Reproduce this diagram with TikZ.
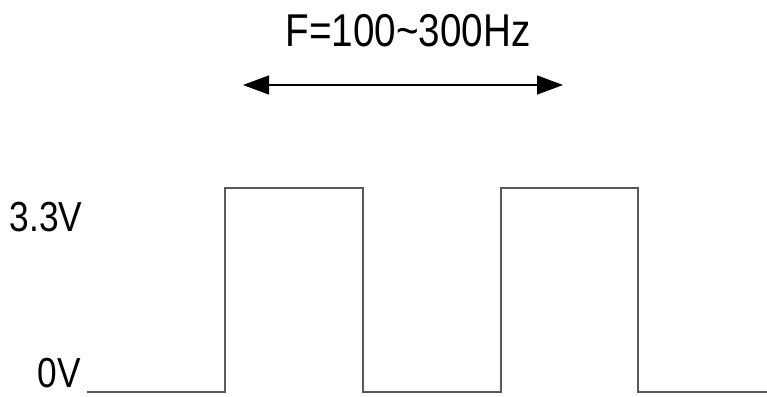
\documentclass[tikz,border=0pt]{standalone}
\usepackage{fontspec}
\setmainfont{Liberation Sans}
\usetikzlibrary{arrows.meta}
\tikzset{
    label/.style={inner sep=0pt,xscale=0.84,font=\fontsize{42}{42}\selectfont},
    signal/.style={line width=1.4pt,draw=black!65},
}
\begin{document}
\begin{tikzpicture}[x=1pt,y=1pt]
    \useasboundingbox (0,0) rectangle (767,396);
    %% Frequency
    \node[label,font=\fontsize{46}{46}\selectfont] (freq) at (408,365) {F=100\char`\~300Hz};
    \coordinate (AL) at (243,311);
    \coordinate (AR) at (563,311);
    \draw[line width=1.3pt,{Triangle[length=26pt,width=19pt]}-{Triangle[length=26pt,width=19pt]}] (AL) -- (AR);
    %% Levels
    \node[label] (high) at (46,179) {3.3V};
    \node[label] (low) at (59,23) {0V};
    %% Square wave
    \coordinate (S) at (87,4);
    \coordinate (R1) at (225,4);
    \coordinate (F1) at (363,4);
    \coordinate (R2) at (501,4);
    \coordinate (F2) at (638,4);
    \coordinate (E) at (767,4);
    \draw[signal] (S) -- (R1) -- ++(0,204) -| (F1) -- (R2) -- ++(0,204) -| (F2) -- (E);
\end{tikzpicture}
\end{document}
